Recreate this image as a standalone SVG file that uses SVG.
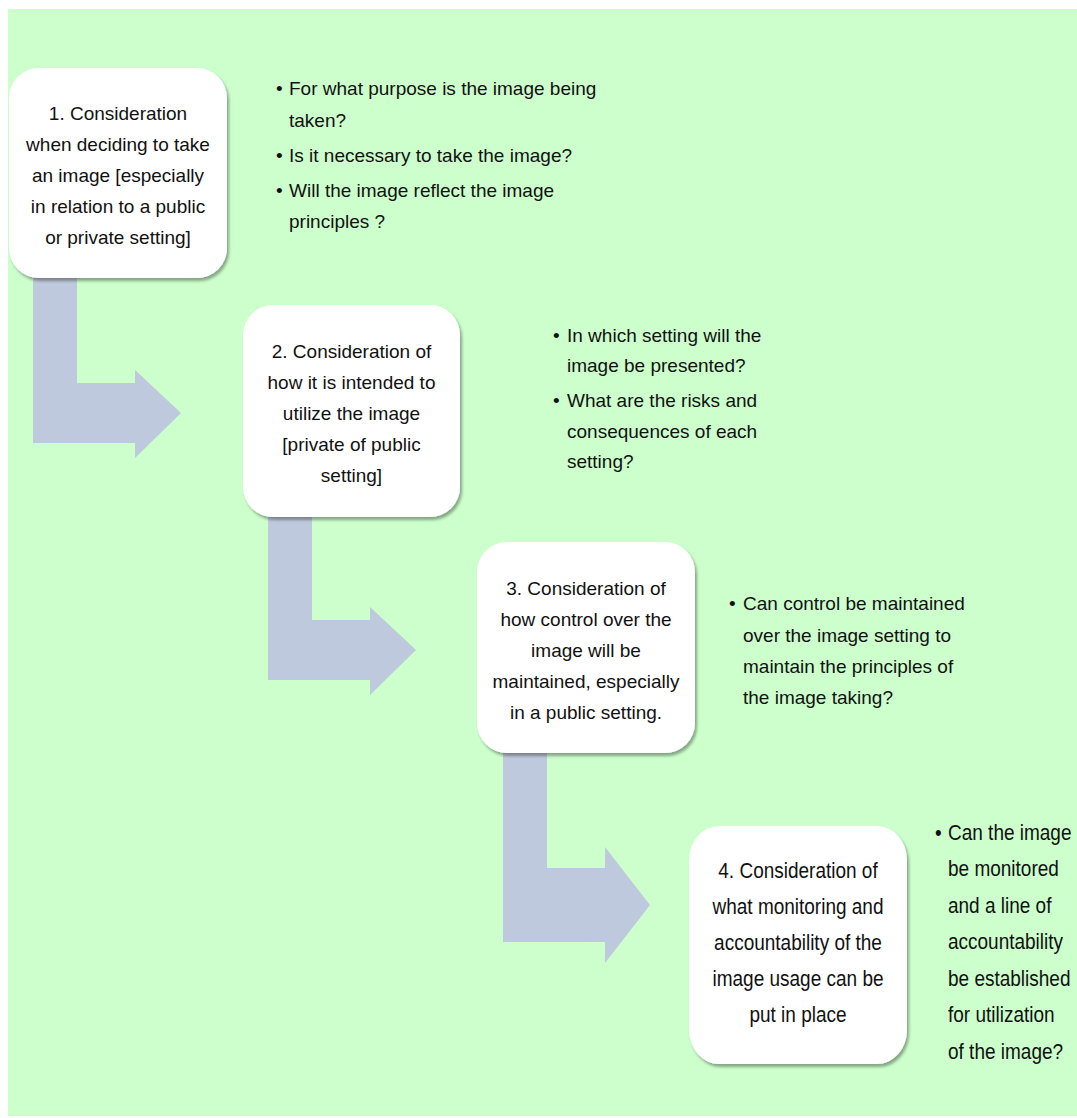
<svg xmlns="http://www.w3.org/2000/svg" width="1077" height="1118" viewBox="0 0 1077 1118">
  <defs>
    <filter id="shadow" x="-10%" y="-10%" width="125%" height="125%">
      <feGaussianBlur in="SourceAlpha" stdDeviation="1.5"/>
      <feOffset dx="2" dy="3" result="b"/>
      <feComponentTransfer><feFuncA type="linear" slope="0.35"/></feComponentTransfer>
      <feMerge><feMergeNode/><feMergeNode in="SourceGraphic"/></feMerge>
    </filter>
  </defs>
  <style>
    .bg { fill: #CCFFCC; }
    .box { fill: #FFFFFF; filter: url(#shadow); }
    .arrow { fill: #BFC9DD; }
    text { font-family: "Liberation Sans", Arial, sans-serif; font-size: 19px; fill: #111111; }
    .c { text-anchor: middle; }
  </style>
  <rect width="1077" height="1118" fill="#FFFFFF"/>
  <rect class="bg" x="8" y="9" width="1069" height="1107"/>

  <g id="connectors">
    <path class="arrow" d="M33,268 L77,268 L77,383 L135,383 L135,370 L181,413 L135,458 L135,443 L33,443 Z"/>
    <path class="arrow" d="M268,505 L312,505 L312,620 L370,620 L370,607 L416,650 L370,695 L370,680 L268,680 Z"/>
    <path class="arrow" d="M503,743 L547,743 L547,868 L605,868 L605,847 L650,905 L605,963 L605,942 L503,942 Z"/>
  </g>

  <g id="node1">
    <rect class="box" x="9" y="68" width="218" height="210" rx="30"/>
    <text class="c" x="118" y="120">1. Consideration</text>
    <text class="c" x="118" y="151">when deciding to take</text>
    <text class="c" x="118" y="182">an image [especially</text>
    <text class="c" x="118" y="213">in relation to a public</text>
    <text class="c" x="118" y="244">or private setting]</text>
  </g>

  <g id="node2">
    <rect class="box" x="243" y="305" width="217" height="212" rx="30"/>
    <text class="c" x="351.5" y="358">2. Consideration of</text>
    <text class="c" x="351.5" y="389">how it is intended to</text>
    <text class="c" x="351.5" y="420">utilize the image</text>
    <text class="c" x="351.5" y="451">[private of public</text>
    <text class="c" x="351.5" y="482">setting]</text>
  </g>

  <g id="node3">
    <rect class="box" x="477" y="542" width="218" height="211" rx="30"/>
    <text class="c" x="586" y="595">3. Consideration of</text>
    <text class="c" x="586" y="626">how control over the</text>
    <text class="c" x="586" y="657">image will be</text>
    <text class="c" x="586" y="688">maintained, especially</text>
    <text class="c" x="586" y="719">in a public setting.</text>
  </g>

  <g id="node4">
    <rect class="box" x="689" y="826" width="218" height="238" rx="30" ry="34"/>
    <text class="c" transform="translate(798,878) scale(1,1.16)">4. Consideration of</text>
    <text class="c" transform="translate(798,914) scale(1,1.16)">what monitoring and</text>
    <text class="c" transform="translate(798,950) scale(1,1.16)">accountability of the</text>
    <text class="c" transform="translate(798,986) scale(1,1.16)">image usage can be</text>
    <text class="c" transform="translate(798,1022) scale(1,1.16)">put in place</text>
  </g>

  <g id="notes1">
    <text x="276" y="95">•</text>
    <text x="289" y="95">For what purpose is the image being</text>
    <text x="289" y="127">taken?</text>
    <text x="276" y="162">•</text>
    <text x="289" y="162">Is it necessary to take the image?</text>
    <text x="276" y="197">•</text>
    <text x="289" y="197">Will the image reflect the image</text>
    <text x="289" y="228">principles ?</text>
  </g>

  <g id="notes2">
    <text x="553" y="342">•</text>
    <text x="567" y="342">In which setting will the</text>
    <text x="567" y="372">image be presented?</text>
    <text x="553" y="407">•</text>
    <text x="567" y="407">What are the risks and</text>
    <text x="567" y="438">consequences of each</text>
    <text x="567" y="468">setting?</text>
  </g>

  <g id="notes3">
    <text x="729" y="610">•</text>
    <text x="743" y="610">Can control be maintained</text>
    <text x="743" y="642">over the image setting to</text>
    <text x="743" y="673">maintain the principles of</text>
    <text x="743" y="704">the image taking?</text>
  </g>

  <g id="notes4">
    <text transform="translate(935,840) scale(1,1.16)">•</text>
    <text transform="translate(948,840) scale(1,1.16)">Can the image</text>
    <text transform="translate(948,876) scale(1,1.16)">be monitored</text>
    <text transform="translate(948,913) scale(1,1.16)">and a line of</text>
    <text transform="translate(948,949) scale(1,1.16)">accountability</text>
    <text transform="translate(948,986) scale(1,1.16)">be established</text>
    <text transform="translate(948,1022) scale(1,1.16)">for utilization</text>
    <text transform="translate(948,1059) scale(1,1.16)">of the image?</text>
  </g>
</svg>
